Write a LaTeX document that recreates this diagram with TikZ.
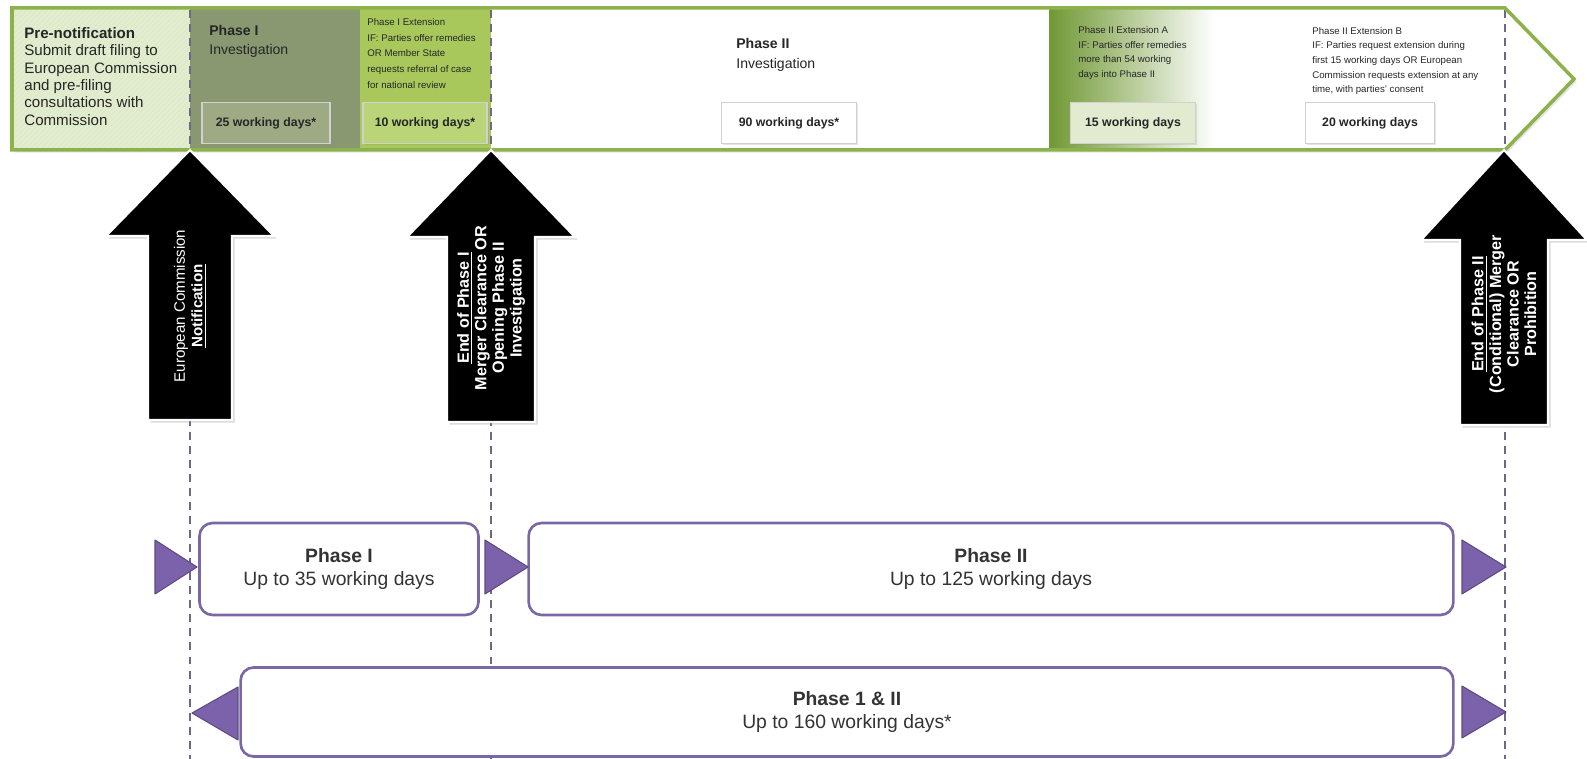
\documentclass[tikz,border=0pt]{standalone}
\usepackage{fontspec}
\setmainfont{Liberation Sans}
\usetikzlibrary{patterns, shadows}
\definecolor{bargreen}{RGB}{141,178,76}
\definecolor{prefill}{RGB}{226,236,206}
\definecolor{phasegrey}{RGB}{137,152,113}
\definecolor{daysgrey}{RGB}{158,170,132}
\definecolor{extgreen}{RGB}{168,200,92}
\definecolor{extlight}{RGB}{186,212,120}
\definecolor{deepgreen}{RGB}{112,152,52}
\definecolor{extpale}{RGB}{226,235,208}
\definecolor{mypurple}{RGB}{124,98,170}
\definecolor{boxpurple}{RGB}{122,104,165}
\definecolor{dashpurple}{RGB}{112,102,138}

\begin{document}
\begin{tikzpicture}[x=0.02cm,y=-0.02cm,
    daysbox/.style={draw=black!18,line width=0.6pt,minimum height=0.82cm,inner sep=0pt,font=\fontsize{7}{8}\selectfont\bfseries,text=black!85,drop shadow={shadow xshift=1pt,shadow yshift=-1pt,opacity=0.2}},
    barnote/.style={anchor=north west,align=left,inner sep=0pt,text=black!85},
    bigarrow/.style={fill=black,draw=white,line width=1.2pt,line join=miter,drop shadow={shadow xshift=1.5pt,shadow yshift=-1.5pt,opacity=0.3}},
    arrownote/.style={rotate=90,align=center,text=white,font=\fontsize{9.2}{10}\selectfont\bfseries},
    phasebox/.style={draw=boxpurple,line width=1.5pt,rounded corners=0.26cm,fill=white,align=center,font=\fontsize{11}{13.5}\selectfont,text=black!80},
    tri/.style={fill=mypurple,draw=mypurple!75!black,line width=0.6pt,line join=round},
    guideline/.style={dashpurple,line width=1.1pt,dash pattern=on 4.5pt off 3.5pt}]
    \useasboundingbox (0,0) rectangle (1587,759);

    % Timeline bar
    \fill[white,drop shadow={shadow xshift=1.5pt,shadow yshift=-1.5pt,opacity=0.2}] (12,8) -- (1505,8) -- (1574,79) -- (1505,150) -- (12,150) -- cycle;
    \fill[prefill] (12,8) rectangle (190,150);
    \fill[pattern=north east lines,pattern color=bargreen!30] (12,8) rectangle (190,150);
    \fill[phasegrey] (190,8) rectangle (360,150);
    \fill[extgreen] (360,8) rectangle (491,150);
    \shade[left color=deepgreen,middle color=deepgreen!50,right color=white] (1049,8) rectangle (1215,150);

    % Guides
    \foreach \x in {190,491,1505}
        \draw[guideline] (\x,10) -- (\x,759);

    \draw[bargreen,line width=2pt,line join=miter] (12,8) -- (1505,8) -- (1574,79) -- (1505,150) -- (12,150) -- cycle;

    % Bar texts
    \node[barnote,font=\fontsize{8.6}{9.9}\selectfont] (prenote) at (24,27) {\textbf{Pre-notification}\\Submit draft filing to\\European Commission\\and pre-filing\\consultations with\\Commission};
    \node[barnote,font=\fontsize{8}{10.8}\selectfont] (phaseone) at (209,25) {\textbf{Phase I}\\Investigation};
    \node[barnote,font=\fontsize{5.5}{9}\selectfont] (extone) at (367,18) {Phase I Extension\\IF: Parties offer remedies\\OR Member State\\requests referral of case\\for national review};
    \node[barnote,font=\fontsize{8}{11.3}\selectfont] (phasetwo) at (736,38) {\textbf{Phase II}\\Investigation};
    \node[barnote,font=\fontsize{5.5}{8.4}\selectfont] (exta) at (1078,26) {Phase II Extension A\\IF: Parties offer remedies\\more than 54 working\\days into Phase II};
    \node[barnote,font=\fontsize{5.5}{8.3}\selectfont] (extb) at (1312,27) {Phase II Extension B\\IF: Parties request extension during\\first 15 working days OR European\\Commission requests extension at any\\time, with parties' consent};

    % Working days
    \node[daysbox,fill=daysgrey,minimum width=2.56cm] (d25) at (266,123) {25 working days*};
    \node[daysbox,fill=extlight,minimum width=2.48cm] (d10) at (425,123) {10 working days*};
    \node[daysbox,fill=white,minimum width=2.7cm] (d90) at (789,123) {90 working days*};
    \node[daysbox,fill=extpale,minimum width=2.5cm] (d15) at (1133,123) {15 working days};
    \node[daysbox,fill=white,minimum width=2.58cm] (d20) at (1370,123) {20 working days};

    % Milestone arrows
    \draw[bigarrow] (148,420) -- (148,236) -- (106,236) -- (190,150) -- (274,236) -- (232,236) -- (232,420) -- cycle;
    \node[arrownote,font=\fontsize{8.6}{10}\selectfont\mdseries] (notify) at (190,306) {European Commission\\\textbf{\underline{Notification}}};
    \draw[bigarrow] (447,422) -- (447,237) -- (407,237) -- (491,150) -- (575,237) -- (535,237) -- (535,422) -- cycle;
    \node[arrownote] (endone) at (491,308) {\underline{End of Phase I}\\Merger Clearance OR\\Opening Phase II\\Investigation};
    \draw[bigarrow] (1460,425) -- (1460,240) -- (1421,240) -- (1504,150) -- (1587,240) -- (1548,240) -- (1548,425) -- cycle;
    \node[arrownote] (endtwo) at (1504,314) {\underline{End of Phase II}\\(Conditional) Merger\\Clearance OR\\Prohibition};

    % Phase spans
    \node[phasebox,minimum width=5.58cm,minimum height=1.84cm] (pone) at (339,569) {\textbf{Phase I}\\Up to 35 working days};
    \node[phasebox,minimum width=18.5cm,minimum height=1.84cm] (ptwo) at (991,569) {\textbf{Phase II}\\Up to 125 working days};
    \node[phasebox,minimum width=24.26cm,minimum height=1.78cm] (pboth) at (847,712) {\textbf{Phase 1 \& II}\\Up to 160 working days*};

    % Markers
    \draw[tri] (155,540) -- (197,567) -- (155,594) -- cycle;
    \draw[tri] (485,540) -- (528,567) -- (485,594) -- cycle;
    \draw[tri] (1462,540) -- (1506,567) -- (1462,594) -- cycle;
    \draw[tri] (1462,686) -- (1506,712) -- (1462,738) -- cycle;
    \draw[tri] (238,687) -- (192,713) -- (238,740) -- cycle;
\end{tikzpicture}
\end{document}
